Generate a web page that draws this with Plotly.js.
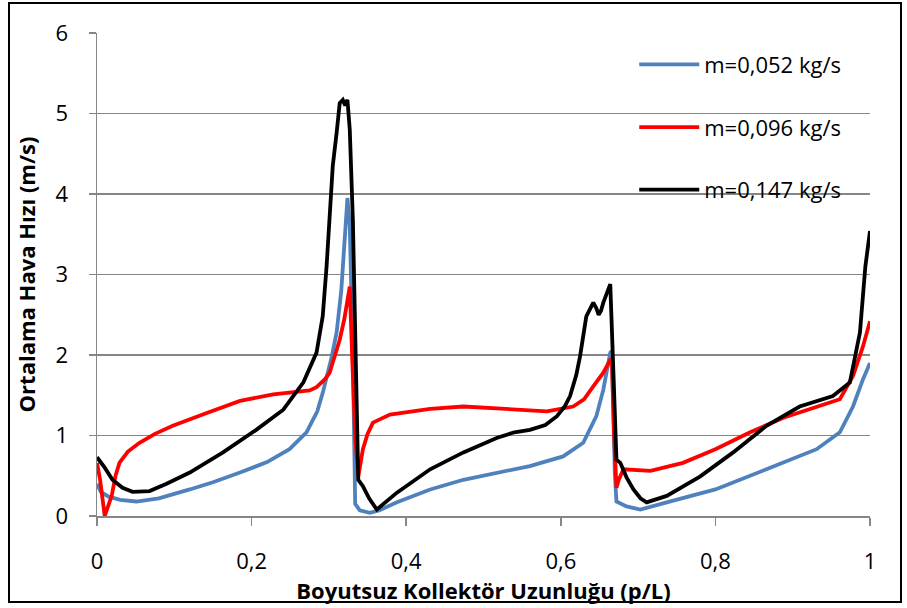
<!DOCTYPE html>
<html>
<head>
<meta charset="utf-8">
<script src="https://cdn.plot.ly/plotly-3.0.1.min.js"></script>
<style>
  body { margin: 0; padding: 0; background: #fff; }
  #wrap { position: relative; width: 907px; height: 608px; }
  #chart { width: 907px; height: 608px; }
  #frame { position: absolute; left: 8px; top: 2px; width: 894px; height: 601px; border: 2.5px solid #000; pointer-events: none; box-sizing: border-box; }
</style>
</head>
<body>
<div id="wrap"><div id="chart"></div><div id="frame"></div></div>
<script>
const seriesNames = ["m=0,052 kg/s", "m=0,096 kg/s", "m=0,147 kg/s"];

const xBlue = [0.000,0.005,0.015,0.030,0.051,0.080,0.120,0.150,0.185,0.220,0.249,0.271,0.285,0.292,0.303,0.310,0.316,0.320,0.324,0.327,0.331,0.334,0.340,0.353,0.365,0.388,0.431,0.474,0.517,0.560,0.603,0.629,0.646,0.655,0.664,0.666,0.670,0.672,0.685,0.703,0.737,0.800,0.866,0.931,0.961,0.978,0.991,1.000];
const yBlue = [0.40,0.30,0.24,0.20,0.18,0.22,0.33,0.42,0.54,0.67,0.83,1.04,1.30,1.53,1.95,2.28,2.80,3.40,3.95,3.60,2.00,0.15,0.07,0.04,0.07,0.17,0.33,0.45,0.54,0.62,0.74,0.91,1.24,1.57,2.03,2.05,0.50,0.18,0.12,0.08,0.17,0.33,0.58,0.83,1.04,1.36,1.70,1.90];

const xRed = [0.000,0.004,0.010,0.015,0.019,0.024,0.029,0.040,0.055,0.075,0.098,0.142,0.185,0.228,0.258,0.275,0.284,0.295,0.301,0.314,0.320,0.327,0.330,0.334,0.338,0.341,0.344,0.350,0.357,0.379,0.431,0.474,0.539,0.582,0.616,0.630,0.642,0.655,0.664,0.666,0.669,0.672,0.675,0.681,0.716,0.758,0.800,0.845,0.888,0.931,0.961,0.978,0.991,1.000];
const yRed = [0.66,0.45,0.00,0.15,0.25,0.50,0.66,0.80,0.91,1.02,1.12,1.28,1.43,1.51,1.54,1.56,1.60,1.70,1.78,2.19,2.45,2.85,2.00,1.00,0.49,0.65,0.83,1.02,1.16,1.26,1.33,1.36,1.33,1.30,1.36,1.45,1.61,1.78,1.94,1.95,1.00,0.35,0.45,0.58,0.56,0.66,0.83,1.04,1.22,1.35,1.45,1.74,2.11,2.42];

const xBlack = [0.000,0.010,0.020,0.033,0.046,0.068,0.090,0.120,0.163,0.206,0.241,0.267,0.284,0.292,0.297,0.301,0.305,0.310,0.314,0.318,0.321,0.324,0.327,0.331,0.335,0.338,0.344,0.352,0.362,0.375,0.388,0.431,0.474,0.517,0.540,0.560,0.580,0.595,0.605,0.612,0.620,0.625,0.633,0.642,0.646,0.649,0.652,0.655,0.660,0.664,0.668,0.672,0.677,0.685,0.694,0.703,0.711,0.737,0.780,0.823,0.866,0.909,0.952,0.974,0.987,0.994,1.000];
const yBlack = [0.73,0.60,0.45,0.35,0.30,0.31,0.40,0.54,0.79,1.07,1.32,1.66,2.03,2.48,3.10,3.77,4.35,4.76,5.13,5.17,5.10,5.17,4.80,3.68,1.80,0.45,0.37,0.22,0.08,0.18,0.29,0.58,0.79,0.97,1.04,1.07,1.13,1.24,1.36,1.49,1.75,1.99,2.48,2.65,2.58,2.50,2.55,2.65,2.78,2.88,1.80,0.70,0.66,0.48,0.33,0.22,0.17,0.25,0.49,0.79,1.12,1.36,1.49,1.66,2.28,3.10,3.54];

const colors = ["#4F81BD", "#FF0000", "#000000"];
const xs = [xBlue, xRed, xBlack];
const ys = [yBlue, yRed, yBlack];

const traces = xs.map((x, i) => ({
  x: x, y: ys[i], type: 'scatter', mode: 'lines',
  name: seriesNames[i], legendgroup: 'g' + i,
  line: { color: colors[i], width: 3.8 }
}));

const font = "'Open Sans', sans-serif";
const layout = {
  width: 907, height: 608,
  margin: { l: 97, r: 37, t: 33, b: 91.5 },
  paper_bgcolor: '#fff', plot_bgcolor: '#fff',
  separators: ', ',
  font: { family: font, size: 22, color: '#000' },
  showlegend: true,
  legend: {
    x: 0.695, y: 0.978, xanchor: 'left', yanchor: 'top',
    bgcolor: 'rgba(0,0,0,0)', font: { family: font, size: 22, color: '#000' },
    tracegroupgap: 31, itemwidth: 60
  },
  xaxis: {
    range: [0, 1], dtick: 0.2, tick0: 0,
    showgrid: false, zeroline: false,
    showline: true, linecolor: '#868686', linewidth: 1.5,
    ticks: 'outside', ticklen: 8, tickcolor: '#868686', tickwidth: 1.5,
    ticklabelstandoff: 17,
    title: { text: 'Boyutsuz Kollektör Uzunluğu (p/L)', font: { family: font, size: 22, weight: 'bold' }, standoff: 0 }
  },
  yaxis: {
    range: [0, 6], dtick: 1,
    showgrid: true, gridcolor: '#868686', gridwidth: 1.5,
    zeroline: false,
    showline: true, linecolor: '#868686', linewidth: 1.5,
    ticks: 'outside', ticklen: 7, tickcolor: '#868686', tickwidth: 1.5,
    ticklabelstandoff: 16,
    title: { text: 'Ortalama Hava Hızı (m/s)', font: { family: font, size: 22, weight: 'bold' }, standoff: 14 }
  }
};

Plotly.newPlot('chart', traces, layout, { displayModeBar: false, staticPlot: true });
</script>
</body>
</html>
